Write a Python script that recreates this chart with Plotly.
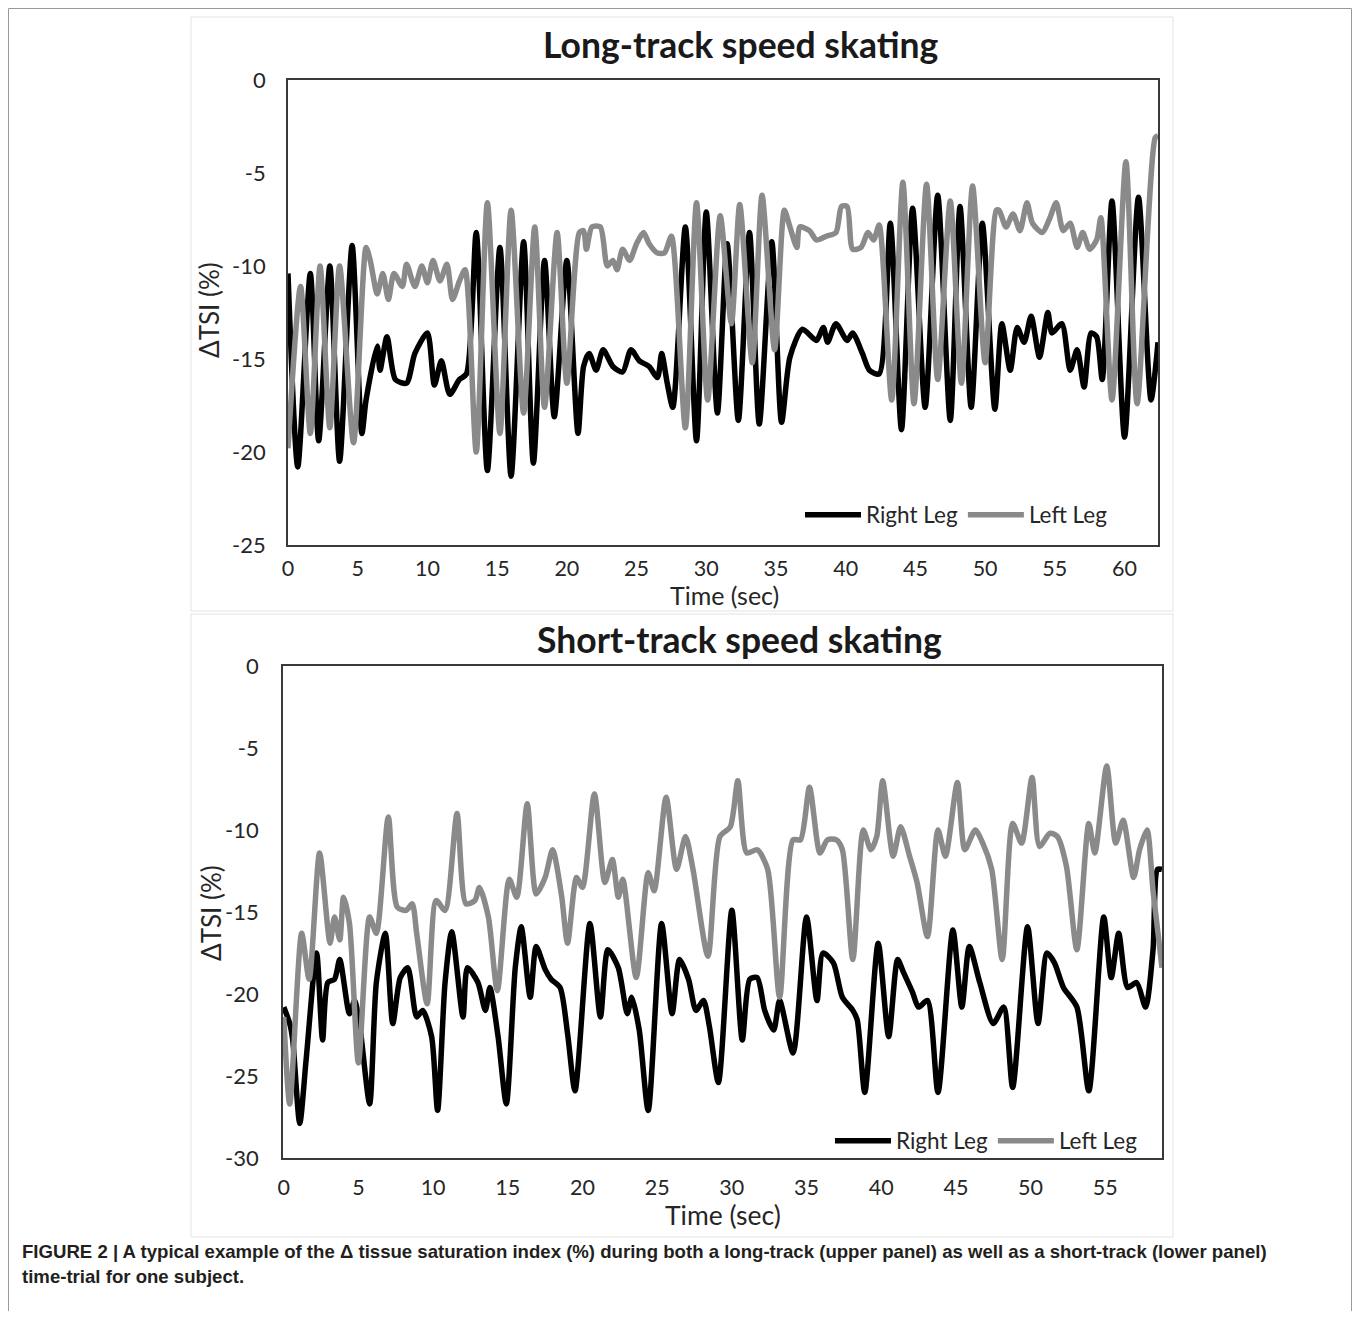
import plotly.graph_objects as go

# ---------------- data (time in s, delta TSI in %) ----------------
long_right = [(0, -10.4), (0.7, -20.8), (1.6, -10.4), (2.2, -19.4), (3.0, -10.0), (3.7, -20.5),
              (4.6, -8.9), (5.3, -19.0), (5.6, -17.2), (6.4, -14.3), (6.6, -15.6), (7.1, -13.8),
              (7.7, -16.1), (8.5, -16.3), (9.1, -14.7), (10.0, -13.6), (10.5, -16.4), (11.0, -15.1),
              (11.6, -16.9), (12.3, -16.1), (12.8, -15.8), (13.5, -8.2), (14.3, -21.0), (15.2, -9.0),
              (16.0, -21.3), (16.9, -8.7), (17.6, -20.6), (18.4, -9.7), (19.1, -18.1), (20.0, -9.7),
              (20.8, -19.0), (21.2, -15.4), (21.6, -14.7), (22.1, -15.6), (22.6, -14.5), (23.3, -15.4),
              (24.0, -15.7), (24.6, -14.5), (25.2, -15.1), (25.9, -15.4), (26.5, -16.0), (26.8, -14.7),
              (27.2, -16.3), (27.6, -17.6), (28.5, -7.9), (29.3, -19.4), (30.0, -7.1), (30.8, -17.9),
              (31.5, -8.8), (32.3, -18.3), (33.1, -8.2), (33.8, -18.5), (34.7, -8.7), (35.4, -18.4),
              (36.0, -14.9), (36.9, -13.4), (37.9, -14.0), (38.4, -13.3), (38.7, -14.1), (39.3, -13.1),
              (40.1, -14.0), (40.5, -13.6), (41.2, -14.7), (41.7, -15.6), (42.4, -15.8), (43.2, -7.7),
              (44.0, -18.8), (44.8, -6.9), (45.7, -17.6), (46.6, -6.2), (47.5, -18.3), (48.2, -6.8),
              (49.0, -17.6), (49.8, -7.7), (50.7, -17.7), (51.2, -13.1), (51.8, -15.6), (52.3, -13.3),
              (52.8, -14.1), (53.3, -12.7), (53.9, -14.9), (54.5, -12.5), (54.8, -13.6), (55.5, -13.1),
              (56.1, -15.6), (56.6, -14.5), (57.1, -16.5), (57.6, -13.6), (58.0, -13.8), (58.4, -16.1),
              (59.1, -6.5), (60.0, -19.2), (61.0, -6.3), (61.9, -17.2), (62.4, -14.1)]

long_left = [(0, -19.8), (0.9, -11.1), (1.6, -19.0), (2.3, -10.0), (3.0, -18.7), (3.7, -10.0),
             (4.7, -19.5), (5.6, -9.0), (5.9, -9.7), (6.4, -11.5), (6.8, -10.4), (7.2, -11.8),
             (7.6, -10.4), (8.2, -11.1), (8.5, -9.9), (9.1, -11.1), (9.6, -10.0), (10.0, -10.9),
             (10.4, -9.7), (10.9, -10.8), (11.4, -9.9), (11.8, -11.8), (12.3, -10.8), (12.7, -10.2),
             (13.5, -20.0), (14.3, -6.6), (15.2, -19.0), (16.0, -7.0), (16.9, -17.9), (17.7, -7.9),
             (18.4, -17.6), (19.3, -8.2), (20.0, -16.3), (20.9, -8.2), (21.2, -8.1), (21.4, -9.1),
             (21.8, -7.9), (22.4, -7.9), (22.9, -10.0), (23.3, -9.7), (23.6, -10.2), (24.0, -9.1),
             (24.5, -9.7), (25.0, -8.8), (25.5, -8.2), (25.9, -8.8), (26.5, -9.3), (27.0, -9.3),
             (27.5, -8.4), (28.5, -18.7), (29.3, -6.6), (30.1, -17.2), (31.0, -7.3), (31.8, -13.1),
             (32.4, -6.7), (33.3, -15.2), (34.0, -6.2), (34.9, -14.5), (35.6, -7.0), (36.0, -7.9),
             (36.5, -9.0), (36.7, -7.9), (37.4, -8.1), (37.9, -8.6), (38.6, -8.4), (39.3, -8.2),
             (39.7, -6.8), (40.1, -6.8), (40.5, -9.1), (41.1, -9.0), (41.6, -8.2), (42.0, -8.6),
             (42.4, -7.8), (43.3, -17.2), (44.1, -5.5), (44.9, -17.4), (45.8, -5.6), (46.6, -16.1),
             (47.5, -6.5), (48.3, -16.3), (49.1, -5.7), (50.0, -15.2), (50.8, -7.0), (51.0, -7.0),
             (51.5, -7.9), (52.0, -7.2), (52.5, -8.1), (53.0, -6.6), (53.4, -7.7), (54.1, -8.2),
             (54.6, -7.5), (55.1, -6.6), (55.6, -8.1), (56.1, -7.7), (56.6, -9.0), (57.0, -8.2),
             (57.5, -9.1), (58.0, -8.6), (58.3, -7.4), (59.1, -17.2), (60.1, -4.4), (60.9, -17.4),
             (62.2, -3.1), (62.4, -3.0)]

short_right = [(0, -20.8), (0.4, -21.8), (0.6, -22.8), (1.07, -27.9), (1.5, -24.0), (2.2, -17.5),
               (2.6, -22.8), (2.95, -19.3), (3.4, -19.1), (3.75, -17.9), (4.4, -21.2), (4.75, -20.4),
               (5.1, -22.0), (5.75, -26.7), (6.2, -19.3), (6.8, -16.3), (7.3, -21.8), (7.8, -19.0),
               (8.3, -18.4), (8.9, -21.4), (9.3, -21.0), (9.9, -22.6), (10.3, -27.1), (10.8, -19.3),
               (11.25, -16.2), (12.0, -21.4), (12.3, -18.4), (13.0, -19.3), (13.5, -21.0), (13.8, -19.6),
               (14.35, -22.6), (14.9, -26.7), (15.5, -18.4), (15.9, -15.9), (16.5, -20.2), (16.9, -17.1),
               (17.5, -18.5), (17.9, -19.1), (18.5, -19.6), (19.0, -22.4), (19.5, -25.9), (20.5, -15.7),
               (21.2, -21.4), (21.7, -17.3), (22.4, -18.4), (23.0, -21.2), (23.3, -20.2), (23.8, -22.2),
               (24.4, -27.1), (25.3, -15.7), (26.0, -21.2), (26.5, -17.9), (27.1, -19.1), (27.6, -21.0),
               (28.1, -20.4), (28.5, -22.0), (29.1, -25.4), (30.0, -14.9), (30.7, -22.8), (31.2, -19.1),
               (31.7, -19.0), (32.2, -21.0), (32.8, -22.2), (33.2, -20.4), (34.1, -23.6), (35.0, -15.3),
               (35.7, -20.4), (36.1, -17.5), (36.8, -18.1), (37.4, -20.2), (38.1, -21.0), (38.4, -21.6),
               (38.9, -26.0), (39.8, -16.9), (40.5, -22.6), (41.1, -17.9), (41.5, -18.7), (42.1, -19.9),
               (42.5, -20.8), (43.1, -20.4), (43.8, -26.0), (44.8, -16.1), (45.4, -20.8), (45.9, -17.1),
               (46.6, -19.3), (47.5, -21.8), (48.2, -20.8), (48.8, -25.7), (49.8, -15.9), (50.5, -21.8),
               (51.1, -17.5), (51.6, -18.1), (52.2, -19.6), (53.1, -20.8), (53.9, -25.9), (54.9, -15.3),
               (55.4, -19.0), (55.9, -16.3), (56.5, -19.6), (57.1, -19.3), (57.7, -20.8), (58.2, -17.3),
               (58.5, -12.4), (58.8, -12.4)]

short_left = [(0, -21.4), (0.4, -26.7), (1.2, -16.3), (1.7, -19.1), (2.4, -11.4), (3.1, -16.9),
              (3.4, -15.3), (3.75, -16.7), (4.0, -14.1), (4.4, -15.7), (5.0, -24.2), (5.75, -15.3),
              (6.2, -16.3), (7.0, -9.2), (7.6, -14.7), (8.2, -14.9), (8.6, -14.5), (8.9, -16.3),
              (9.6, -20.6), (10.2, -14.3), (10.8, -14.9), (11.6, -9.0), (12.2, -14.5), (12.8, -14.3),
              (13.1, -13.5), (13.7, -15.3), (14.3, -19.8), (15.1, -13.0), (15.6, -14.1), (16.3, -8.4),
              (16.9, -13.9), (17.5, -12.9), (18.0, -11.2), (18.6, -14.0), (19.0, -16.9), (19.6, -12.9),
              (20.0, -13.5), (20.8, -7.8), (21.5, -13.2), (22.0, -11.8), (22.4, -14.1), (22.7, -13.0),
              (23.6, -19.0), (24.4, -12.6), (24.8, -13.7), (25.6, -8.0), (26.3, -12.4), (26.9, -10.4),
              (27.4, -12.4), (28.4, -17.7), (29.2, -10.4), (29.9, -9.8), (30.4, -7.0), (31.0, -11.4),
              (31.7, -11.2), (32.4, -12.4), (33.2, -20.2), (34.1, -10.6), (34.6, -10.6), (35.2, -7.4),
              (35.9, -11.4), (36.4, -10.6), (37.0, -10.6), (37.4, -11.2), (38.1, -17.9), (38.8, -10.0),
              (39.3, -11.2), (39.7, -10.4), (40.1, -7.0), (40.8, -11.6), (41.3, -9.8), (41.9, -11.6),
              (42.4, -13.2), (43.1, -16.5), (43.8, -10.0), (44.3, -11.6), (45.1, -7.1), (45.6, -11.2),
              (46.3, -10.0), (46.8, -10.8), (47.4, -12.4), (48.1, -17.9), (48.8, -9.6), (49.4, -10.8),
              (50.1, -6.8), (50.6, -11.0), (51.3, -10.2), (51.8, -10.4), (52.4, -12.2), (53.1, -17.3),
              (53.9, -9.6), (54.3, -11.4), (55.1, -6.1), (55.7, -10.8), (56.2, -9.4), (56.9, -12.9),
              (57.3, -11.2), (57.8, -10.0), (58.2, -13.7), (58.8, -18.4)]

series_names = ["Right Leg", "Left Leg"]
panel_titles = ["Long-track speed skating", "Short-track speed skating"]
long_x_ticks = list(range(0, 61, 5))
long_y_ticks = [0, -5, -10, -15, -20, -25]
short_x_ticks = list(range(0, 56, 5))
short_y_ticks = [0, -5, -10, -15, -20, -25, -30]
caption_lines = [
    "FIGURE 2 | A typical example of the \u0394 tissue saturation index (%) during both a long-track (upper panel) as well as a short-track (lower panel)",
    "time-trial for one subject.",
]

# ---------------- figure ----------------
# page body has an 8 px margin, so the figure is 16 px smaller and page pixels are shifted by 8
OFF = 8
W, H = 1360 - 2 * OFF, 1319 - 2 * OFF
BLACK = "#000000"
GRAY = "#8a8a8a"
FONT = "Lato"
TXT = "#262626"


def px(x):
    return (x - OFF) / W


def py(y):
    return 1 - (y - OFF) / H


fig = go.Figure()


def add(data, name, color, xa, ya, legend):
    t = [p[0] for p in data]
    v = [p[1] for p in data]
    fig.add_trace(go.Scatter(x=t, y=v, mode="lines", name=name, xaxis=xa, yaxis=ya,
                             legend=legend,
                             line=dict(color=color, width=5.5, shape="spline", smoothing=0.7)))


add(long_right, series_names[0], BLACK, "x", "y", "legend")
add(long_left, series_names[1], GRAY, "x", "y", "legend")
add(short_right, series_names[0], BLACK, "x2", "y2", "legend2")
add(short_left, series_names[1], GRAY, "x2", "y2", "legend2")

axis_common = dict(showline=True, mirror=True, linecolor="#3a3a3a", linewidth=1.6,
                   showgrid=False, zeroline=False, ticks="", automargin=False)
xfont = dict(family=FONT, size=21.5, color=TXT)
yfont = dict(family=FONT, size=22, color=TXT)


def labels(vals):
    return [str(v) for v in vals]


legend_common = dict(orientation="h", xanchor="left", yanchor="middle",
                     bgcolor="rgba(0,0,0,0)", font=dict(family=FONT, size=22.5, color=TXT),
                     itemwidth=56, tracegroupgap=0)

fig.update_layout(
    width=W, height=H, margin=dict(l=0, r=0, t=0, b=0, autoexpand=False),
    paper_bgcolor="white", plot_bgcolor="white",
    xaxis=dict(domain=[px(288), px(1158)], range=[0, 62.4], tickvals=long_x_ticks,
               ticktext=labels(long_x_ticks), anchor="y", ticklabelstandoff=3, tickfont=xfont, **axis_common),
    yaxis=dict(domain=[py(545), py(80)], range=[-25, 0], tickvals=long_y_ticks,
               ticktext=labels(long_y_ticks), anchor="x", ticklabelstandoff=16, tickfont=yfont, **axis_common),
    xaxis2=dict(domain=[px(283), px(1162)], range=[-0.05, 58.8], tickvals=short_x_ticks,
                ticktext=labels(short_x_ticks), anchor="y2", ticklabelstandoff=9, tickfont=xfont, **axis_common),
    yaxis2=dict(domain=[py(1158), py(666)], range=[-30, 0], tickvals=short_y_ticks,
                ticktext=labels(short_y_ticks), anchor="x2", ticklabelstandoff=18, tickfont=yfont, **axis_common),
    legend=dict(x=px(800), y=py(515), **legend_common),
    legend2=dict(x=px(830), y=py(1141), **legend_common),
    showlegend=True,
)

annotations = [
    dict(text="<b>" + panel_titles[0] + "</b>", x=px(741), y=py(45), font=dict(family=FONT, size=35.5, color="#1a1a1a")),
    dict(text="<b>" + panel_titles[1] + "</b>", x=px(739), y=py(640), font=dict(family=FONT, size=35.5, color="#1a1a1a")),
    dict(text="Time (sec)", x=px(724), y=py(595), font=dict(family=FONT, size=25, color=TXT)),
    dict(text="Time (sec)", x=px(723), y=py(1215), font=dict(family=FONT, size=26.5, color=TXT)),
    dict(text="\u0394TSI (%)", x=px(209), y=py(310), textangle=-90, font=dict(family=FONT, size=26, color=TXT)),
    dict(text="\u0394TSI (%)", x=px(211), y=py(913), textangle=-90, font=dict(family=FONT, size=26, color=TXT)),
    dict(text="<b>" + caption_lines[0] + "</b>", x=px(20), y=py(1251), xanchor="left",
         font=dict(family="Liberation Sans", size=18.6, color="#231f20")),
    dict(text="<b>" + caption_lines[1] + "</b>", x=px(20), y=py(1276), xanchor="left",
         font=dict(family="Liberation Sans", size=18.6, color="#231f20")),
]
for a in annotations:
    a.setdefault("xanchor", "center")
    a.update(xref="paper", yref="paper", yanchor="middle", showarrow=False)
fig.update_layout(annotations=annotations)

# frames: outer figure border and faint chart-area borders
fig.add_shape(type="rect", xref="paper", yref="paper", x0=px(8.5), x1=px(1351.5), y0=py(1340), y1=py(8.5),
              line=dict(color="#9a9a9a", width=1))
fig.add_shape(type="rect", xref="paper", yref="paper", x0=px(191), x1=px(1173), y0=py(611), y1=py(17),
              line=dict(color="#e3e3e3", width=1))
fig.add_shape(type="rect", xref="paper", yref="paper", x0=px(191), x1=px(1173), y0=py(1237), y1=py(614),
              line=dict(color="#e3e3e3", width=1))

fig.write_html("out.html")
